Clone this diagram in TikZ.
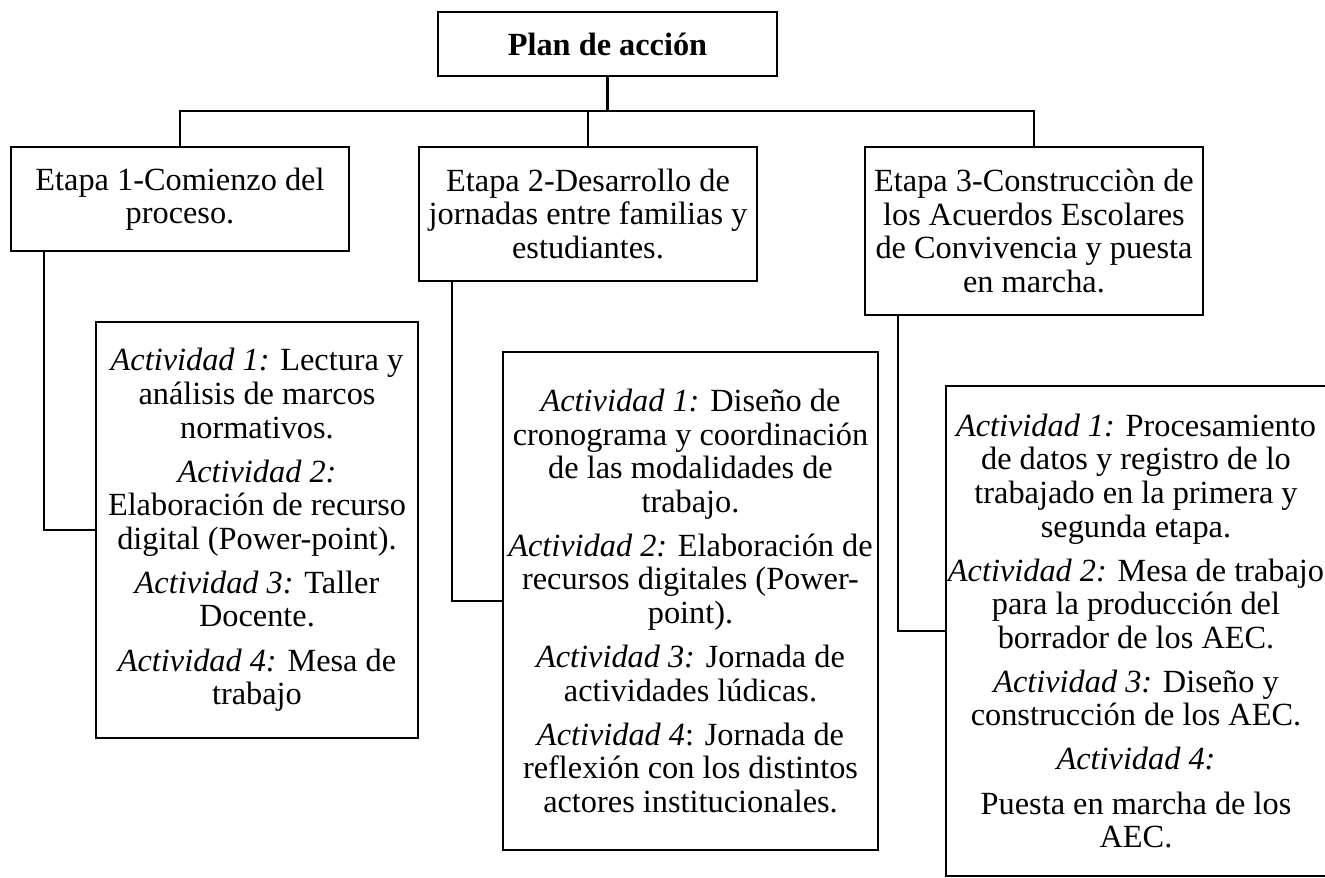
\documentclass[tikz,border=0pt]{standalone}
\usepackage{fontspec}
\setmainfont{Liberation Serif}
\usetikzlibrary{positioning}
\tikzset{caja/.style={draw,line width=1.2pt,align=center,inner sep=1pt,
                      font=\fontsize{18.4}{19.1}\selectfont},
         plan/.style={caja,font=\fontsize{18.4}{19.1}\selectfont\bfseries,minimum width=6.78cm,minimum height=1.28cm},
         etapa/.style={caja,minimum width=6.76cm},
         actividad/.style={caja},
         linea/.style={line width=1.2pt},
        }

\begin{document}
\begin{tikzpicture}[x=0.02cm,y=-0.02cm]
        \useasboundingbox(0,0)rectangle(1325,877);

        \node[plan](plan)at(607.5,44){Plan de acción};

        \node[etapa, minimum height=2.08cm](e1)at(180,199){Etapa 1-Comienzo del\\proceso.};
        \node[etapa, minimum height=2.68cm](e2)at(588,214){Etapa 2-Desarrollo de\\jornadas entre familias y\\estudiantes.};
        \node[etapa, minimum height=3.36cm](e3)at(1034,231){Etapa 3-Construcciòn de\\los Acuerdos Escolares\\de Convivencia y puesta\\en marcha.};

        \node[actividad, minimum width=6.44cm, minimum height=8.32cm](a1)at(257,530){%
            \textit{Actividad 1:} Lectura y\\análisis de marcos\\normativos.\\[6pt]
            \textit{Actividad 2:}\\Elaboración de recurso\\digital (Power-point).\\[6pt]
            \textit{Actividad 3:} Taller\\Docente.\\[6pt]
            \textit{Actividad 4:} Mesa de\\trabajo};
        \node[actividad, minimum width=7.5cm, minimum height=9.96cm](a2)at(690.5,601){%
            \textit{Actividad 1:} Diseño de\\cronograma y coordinación\\de las modalidades de\\trabajo.\\[6pt]
            \textit{Actividad 2:} Elaboración de\\recursos digitales (Power-\\point).\\[6pt]
            \textit{Actividad 3:} Jornada de\\actividades lúdicas.\\[6pt]
            \textit{Actividad 4}: Jornada de\\reflexión con los distintos\\actores institucionales.};
        \node[actividad, minimum width=7.4cm, minimum height=9.8cm](a3)at(1136,631){%
            \textit{Actividad 1:} Procesamiento\\de datos y registro de lo\\trabajado en la primera y\\segunda etapa.\\[6pt]
            \textit{Actividad 2:} Mesa de trabajo\\para la producción del\\borrador de los AEC.\\[6pt]
            \textit{Actividad 3:} Diseño y\\construcción de los AEC.\\[6pt]
            \textit{Actividad 4:}\\[6pt]
            Puesta en marcha de los\\AEC.};

        % ramas
        \coordinate(hub)at(607.5,111);
        \draw[linea](plan)--(hub);
        \draw[linea](e1.north)|-(hub)-|(e3.north);
        \draw[linea](e2.north)--(e2.north|-hub);

        \draw[linea]([xshift=0.68cm]e1.south west)|-(a1.west);
        \draw[linea]([xshift=0.68cm]e2.south west)|-(a2.west);
        \draw[linea]([xshift=0.68cm]e3.south west)|-(a3.west);
    \end{tikzpicture}
\end{document}
